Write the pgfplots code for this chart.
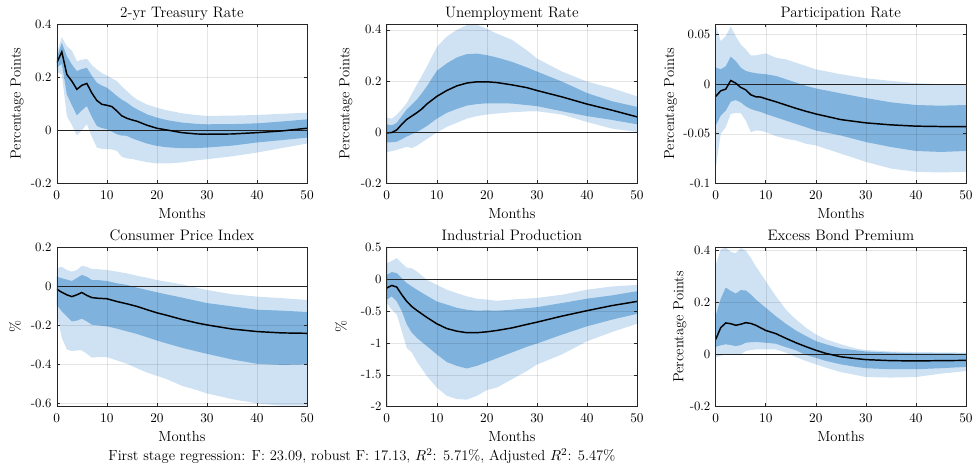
\documentclass[border=0pt]{standalone}
\usepackage{pgfplots}
\usepackage{pgfplotstable}
\pgfplotsset{compat=1.18}
\usepgfplotslibrary{fillbetween}
\definecolor{lightb}{RGB}{207,226,243}
\definecolor{darkb}{RGB}{127,178,220}

\pgfplotstableread{
x m dlo dhi llo lhi
0 0.254 0.235 0.275 0.22 0.29
1 0.295 0.25 0.329 0.21 0.35
2 0.21 0.135 0.279 0.054 0.316
3 0.185 0.095 0.2475 0.02 0.30
4 0.154 0.056 0.2225 -0.019 0.26
5 0.169 0.075 0.23 0.0 0.265
6 0.176 0.091 0.235 0.0225 0.269
7 0.14 0.05 0.205 -0.025 0.245
8 0.112 0.016 0.179 -0.065 0.229
9 0.0975 0.008 0.168 -0.07 0.215
10 0.094 0.004 0.16 -0.071 0.206
11 0.089 -0.005 0.145 -0.072 0.195
12 0.0725 -0.015 0.129 -0.078 0.185
13 0.054 -0.02 0.115 -0.1 0.165
14 0.045 -0.021 0.104 -0.106 0.1475
15 0.039 -0.03 0.09 -0.108 0.13
16 0.034 -0.037 0.079 -0.112 0.116
18 0.019 -0.05 0.06 -0.12 0.097
20 0.0075 -0.059 0.0475 -0.125 0.085
22 0.001 -0.064 0.038 -0.125 0.075
25 -0.009 -0.0675 0.029 -0.121 0.064
28 -0.014 -0.067 0.024 -0.113 0.057
30 -0.015 -0.065 0.0225 -0.109 0.054
35 -0.014 -0.058 0.023 -0.098 0.055
40 -0.009 -0.046 0.026 -0.084 0.0575
45 -0.0025 -0.037 0.033 -0.067 0.062
50 0.0075 -0.0275 0.041 -0.05 0.066
}\tA

\pgfplotstableread{
x m dlo dhi llo lhi
0 -0.003 -0.04 0.031 -0.078 0.057
1 -0.001 -0.039 0.027 -0.074 0.053
2 0.009 -0.037 0.037 -0.069 0.069
3 0.031 -0.027 0.063 -0.063 0.09
4 0.05 -0.017 0.089 -0.057 0.114
5 0.063 -0.008 0.108 -0.062 0.15
6 0.076 0.001 0.127 -0.053 0.185
7 0.091 0.012 0.152 -0.040 0.22
8 0.11 0.024 0.179 -0.027 0.256
10 0.14 0.053 0.24 -0.001 0.333
12 0.163 0.076 0.269 0.021 0.374
14 0.181 0.091 0.292 0.037 0.40
16 0.192 0.104 0.305 0.053 0.418
18 0.197 0.11 0.307 0.063 0.42
20 0.197 0.113 0.301 0.069 0.404
22 0.194 0.113 0.292 0.073 0.385
25 0.185 0.112 0.275 0.078 0.361
28 0.174 0.106 0.253 0.081 0.32
30 0.163 0.102 0.237 0.082 0.288
35 0.138 0.082 0.198 0.069 0.237
40 0.11 0.063 0.153 0.04 0.198
45 0.086 0.048 0.121 0.014 0.172
50 0.06 0.031 0.099 0.001 0.14
}\tB

\pgfplotstableread{
x m dlo dhi llo lhi
0 -0.0123 -0.0417 0.0167 -0.085 0.06
1 -0.0067 -0.0317 0.015 -0.05 0.0433
2 -0.005 -0.0267 0.018 -0.0433 0.0483
3 0.0037 -0.0177 0.0277 -0.03 0.0583
4 0.001 -0.016 0.0233 -0.029 0.0483
5 -0.0033 -0.0183 0.0167 -0.0293 0.04
6 -0.0057 -0.0223 0.0133 -0.0367 0.035
7 -0.0107 -0.025 0.012 -0.0483 0.029
8 -0.0127 -0.0267 0.011 -0.0467 0.029
9 -0.013 -0.028 0.0105 -0.047 0.030
10 -0.0147 -0.03 0.01 -0.0483 0.031
12 -0.0177 -0.0333 0.0083 -0.0523 0.0267
14 -0.021 -0.0367 0.005 -0.055 0.025
16 -0.0243 -0.04 0.0017 -0.0567 0.0217
18 -0.0273 -0.0433 -0.0017 -0.06 0.0183
20 -0.03 -0.0467 -0.0043 -0.0617 0.015
25 -0.0357 -0.0517 -0.0093 -0.07 0.01
30 -0.039 -0.0583 -0.014 -0.0783 0.006
35 -0.041 -0.0633 -0.0183 -0.085 0.0033
40 -0.0423 -0.0673 -0.021 -0.0883 0.001
45 -0.0427 -0.0683 -0.0217 -0.089 0.0
50 -0.0427 -0.0673 -0.021 -0.0883 -0.001
}\tC

\pgfplotstableread{
x m dlo dhi llo lhi
0 -0.015 -0.095 0.049 -0.146 0.092
1 -0.031 -0.129 0.041 -0.264 0.1
2 -0.044 -0.154 0.034 -0.324 0.083
3 -0.053 -0.18 0.027 -0.332 0.075
4 -0.044 -0.176 0.042 -0.329 0.083
5 -0.032 -0.166 0.058 -0.329 0.105
6 -0.047 -0.18 0.049 -0.346 0.1
7 -0.058 -0.197 0.032 -0.366 0.088
8 -0.061 -0.2 0.032 -0.363 0.088
10 -0.064 -0.205 0.027 -0.363 0.083
12 -0.078 -0.217 0.015 -0.38 0.075
14 -0.09 -0.231 0.007 -0.397 0.066
16 -0.103 -0.244 -0.007 -0.42 0.054
18 -0.12 -0.261 -0.019 -0.442 0.044
20 -0.136 -0.278 -0.031 -0.459 0.032
22 -0.149 -0.293 -0.042 -0.476 0.023
25 -0.17 -0.315 -0.058 -0.51 0.01
28 -0.188 -0.334 -0.075 -0.532 -0.008
30 -0.198 -0.346 -0.086 -0.549 -0.019
35 -0.219 -0.375 -0.103 -0.578 -0.041
40 -0.232 -0.397 -0.12 -0.60 -0.053
45 -0.239 -0.403 -0.125 -0.612 -0.061
50 -0.241 -0.40 -0.132 -0.612 -0.07
}\tD

\pgfplotstableread{
x m dlo dhi llo lhi
0 -0.14 -0.32 0.068 -0.375 0.25
1 -0.099 -0.27 0.11 -0.48 0.285
2 -0.125 -0.35 0.094 -0.555 0.33
3 -0.245 -0.5 0.016 -0.815 0.25
4 -0.35 -0.71 -0.062 -1.08 0.18
5 -0.43 -0.84 -0.115 -1.15 0.17
6 -0.49 -0.92 -0.166 -1.29 0.12
8 -0.6 -1.05 -0.26 -1.52 -0.01
10 -0.70 -1.18 -0.35 -1.7 -0.09
12 -0.775 -1.3 -0.40 -1.83 -0.166
14 -0.816 -1.36 -0.45 -1.88 -0.22
16 -0.84 -1.4 -0.48 -1.89 -0.27
18 -0.84 -1.36 -0.495 -1.83 -0.307
20 -0.826 -1.3 -0.49 -1.74 -0.32
22 -0.805 -1.24 -0.495 -1.70 -0.34
25 -0.765 -1.15 -0.48 -1.57 -0.32
28 -0.71 -1.06 -0.455 -1.44 -0.305
30 -0.675 -1.01 -0.44 -1.34 -0.295
35 -0.58 -0.87 -0.375 -1.18 -0.245
40 -0.495 -0.74 -0.307 -0.975 -0.166
45 -0.415 -0.635 -0.255 -0.83 -0.115
50 -0.35 -0.545 -0.19 -0.70 -0.09
}\tE

\pgfplotstableread{
x m dlo dhi llo lhi
0 0.059 0.03 0.15 -0.01 0.346
1 0.104 0.036 0.215 -0.004 0.404
2 0.122 0.04 0.258 0.001 0.413
3 0.119 0.037 0.245 0.001 0.395
4 0.113 0.033 0.235 -0.001 0.39
5 0.117 0.037 0.248 0.001 0.41
6 0.123 0.046 0.247 0.014 0.40
7 0.12 0.048 0.232 0.018 0.372
8 0.113 0.049 0.212 0.02 0.34
10 0.093 0.046 0.18 0.02 0.283
12 0.081 0.042 0.148 0.02 0.225
14 0.063 0.029 0.119 0.008 0.174
16 0.046 0.017 0.093 -0.009 0.136
18 0.031 -0.001 0.072 -0.024 0.104
20 0.017 -0.012 0.052 -0.037 0.078
22 0.005 -0.024 0.04 -0.05 0.059
25 -0.008 -0.037 0.024 -0.067 0.04
28 -0.015 -0.047 0.017 -0.078 0.024
30 -0.019 -0.052 0.012 -0.086 0.018
35 -0.023 -0.056 0.008 -0.088 0.012
40 -0.024 -0.056 0.005 -0.086 0.01
45 -0.023 -0.052 0.005 -0.073 0.009
50 -0.022 -0.047 0.004 -0.063 0.008
}\tF

\pgfplotsset{
  irf/.style={
    scale only axis, width=188.25pt, height=120pt, anchor=south west,
    xmin=0, xmax=50, xtick={0,10,20,30,40,50},
    grid=major, major grid style={black, opacity=0.1, line width=0.4pt},
    axis line style={black!85, line width=0.45pt},
    tick style={black!85, line width=0.45pt}, major tick length=2.5pt,
    tick align=inside, axis on top,
    ticklabel style={font=\fontsize{9.6}{11}\selectfont},
    label style={font=\fontsize{11}{13}\selectfont},
    every axis title/.style={font=\fontsize{11.4}{13}\selectfont, at={(0.5,1)}, anchor=base, yshift=5pt},
    xlabel=Months,
    xlabel style={at={(axis description cs:0.5,0)}, anchor=base, yshift=-26.25pt},
    xticklabel style={anchor=base, yshift=-12pt},
    yticklabel style={xshift=-0.5pt},
  },
}

\newcommand{\bands}[1]{%
  \addplot[draw=none, name path=lhi] table[x=x,y=lhi]{#1};
  \addplot[draw=none, name path=llo] table[x=x,y=llo]{#1};
  \addplot[fill=lightb, draw=none] fill between[of=lhi and llo];
  \addplot[draw=none, name path=dhi] table[x=x,y=dhi]{#1};
  \addplot[draw=none, name path=dlo] table[x=x,y=dlo]{#1};
  \addplot[fill=darkb, draw=none] fill between[of=dhi and dlo];
  \addplot[black!85, line width=0.45pt] coordinates {(0,0) (50,0)};
  \addplot[black, line width=1.1pt] table[x=x,y=m]{#1};
}

\begin{document}
\begin{tikzpicture}

\begin{axis}[irf, at={(42.75pt,216pt)}, title={2-yr Treasury Rate},
  ymin=-0.2, ymax=0.4, ytick={-0.2,0,0.2,0.4}, yticklabels={-0.2,0,0.2,0.4},
  ylabel={Percentage Points}, ylabel style={at={(axis description cs:-0.159,0.5)}, anchor=center}]
\bands{\tA}
\end{axis}

\begin{axis}[irf, at={(291pt,216pt)}, title={Unemployment Rate},
  ymin=-0.2, ymax=0.423, ytick={-0.2,0,0.2,0.4}, yticklabels={-0.2,0,0.2,0.4},
  ylabel={Percentage Points}, ylabel style={at={(axis description cs:-0.163,0.5)}, anchor=center}]
\bands{\tB}
\end{axis}

\begin{axis}[irf, at={(538.5pt,216pt)}, title={Participation Rate},
  ymin=-0.1, ymax=0.0607, ytick={-0.1,-0.05,0,0.05}, yticklabels={-0.1,-0.05,0,0.05},
  ylabel={Percentage Points}, ylabel style={at={(axis description cs:-0.18,0.5)}, anchor=center}]
\bands{\tC}
\end{axis}

\begin{axis}[irf, at={(42.75pt,48pt)}, title={Consumer Price Index},
  ymin=-0.617, ymax=0.2, ytick={-0.6,-0.4,-0.2,0,0.2}, yticklabels={-0.6,-0.4,-0.2,0,0.2},
  ylabel={\%}, ylabel style={at={(axis description cs:-0.167,0.5)}, anchor=center}]
\bands{\tD}
\end{axis}

\begin{axis}[irf, at={(291pt,48pt)}, title={Industrial Production},
  ymin=-2, ymax=0.5, ytick={-2,-1.5,-1,-0.5,0,0.5}, yticklabels={-2,-1.5,-1,-0.5,0,0.5},
  ylabel={\%}, ylabel style={at={(axis description cs:-0.183,0.5)}, anchor=center}]
\bands{\tE}
\end{axis}

\begin{axis}[irf, at={(538.5pt,48pt)}, title={Excess Bond Premium},
  ymin=-0.2, ymax=0.413, ytick={-0.2,0,0.2,0.4}, yticklabels={-0.2,0,0.2,0.4},
  ylabel={Percentage Points}, ylabel style={at={(axis description cs:-0.143,0.5)}, anchor=center}]
\bands{\tF}
\end{axis}

\node[anchor=base, font=\fontsize{11}{13}\selectfont] at (272.25pt,7.5pt)
  {First stage regression: F: 23.09, robust F: 17.13, $R^2$: 5.71\%, Adjusted $R^2$: 5.47\%};
\path (0,0) rectangle (732.75pt,354pt);
\end{tikzpicture}
\end{document}
